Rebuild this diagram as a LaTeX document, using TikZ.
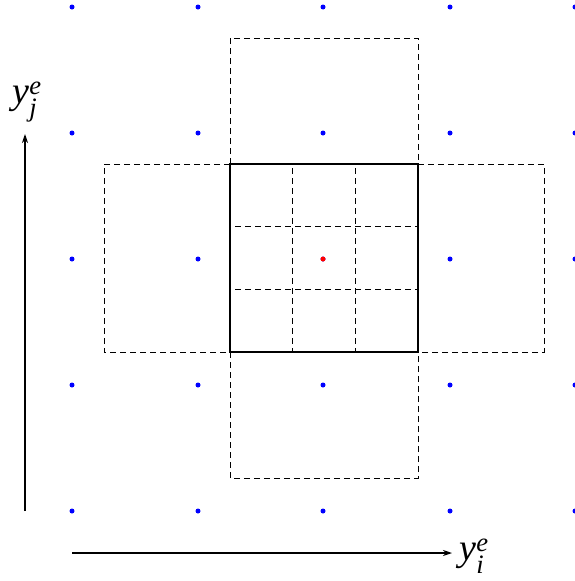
\documentclass[tikz,border=0pt]{standalone}
\usepackage{amsmath}
\usepackage{fontspec}
\setmainfont{Liberation Serif}
\usetikzlibrary{arrows.meta}
\begin{document}
\begin{tikzpicture}[x=1pt,y=-1pt,
  dot/.style={circle,fill=blue,inner sep=0pt,minimum size=5pt},
  reddot/.style={circle,fill=red,inner sep=0pt,minimum size=5pt},
  dsh/.style={draw,dash pattern=on 6pt off 4pt,line width=0.9pt},
  solidbox/.style={draw,line width=1.5pt},
  axis/.style={-{Stealth[length=9pt,width=6pt]},line width=1.1pt},
  lbl/.style={font=\fontsize{38}{38}\selectfont,inner sep=0pt}]
\useasboundingbox (0,0) rectangle (574,581);
% lattice dots
\foreach \i/\x in {0/72,1/198,2/323,3/450,4/575}{
  \foreach \j/\y in {0/7,1/133,2/259,3/385,4/511}{
    \node[dot] (d\i\j) at (\x,\y) {};
  }
}
% dashed neighbouring boxes
\draw[dsh] (230,164) -- (230,38) -- (418,38) -- (418,164);
\draw[dsh] (230,352) -- (230,478) -- (418,478) -- (418,352);
\draw[dsh] (230,164) -- (104,164) -- (104,352) -- (230,352);
\draw[dsh] (418,164) -- (544,164) -- (544,352) -- (418,352);
% inner grid
\draw[dsh] (292.7,168) -- (292.7,352);
\draw[dsh] (355.3,168) -- (355.3,352);
\draw[dsh] (235,226.7) -- (418,226.7);
\draw[dsh] (235,289.3) -- (418,289.3);
% central box
\draw[solidbox] (230,164) rectangle (418,352);
\node[reddot] (c) at (323,259) {};
% axes
\coordinate (va) at (25,511);
\coordinate (vb) at (25,134);
\coordinate (ha) at (72,553);
\coordinate (hb) at (452,553);
\draw[axis] (va) -- (vb);
\draw[axis] (ha) -- (hb);
\node[lbl] (yj) at (27,102) {\textit{y}$^{\textit{e}}_{\textit{j}}$};
\node[lbl] (yi) at (474,556) {\textit{y}$^{\textit{e}}_{\textit{i}}$};
\end{tikzpicture}
\end{document}
